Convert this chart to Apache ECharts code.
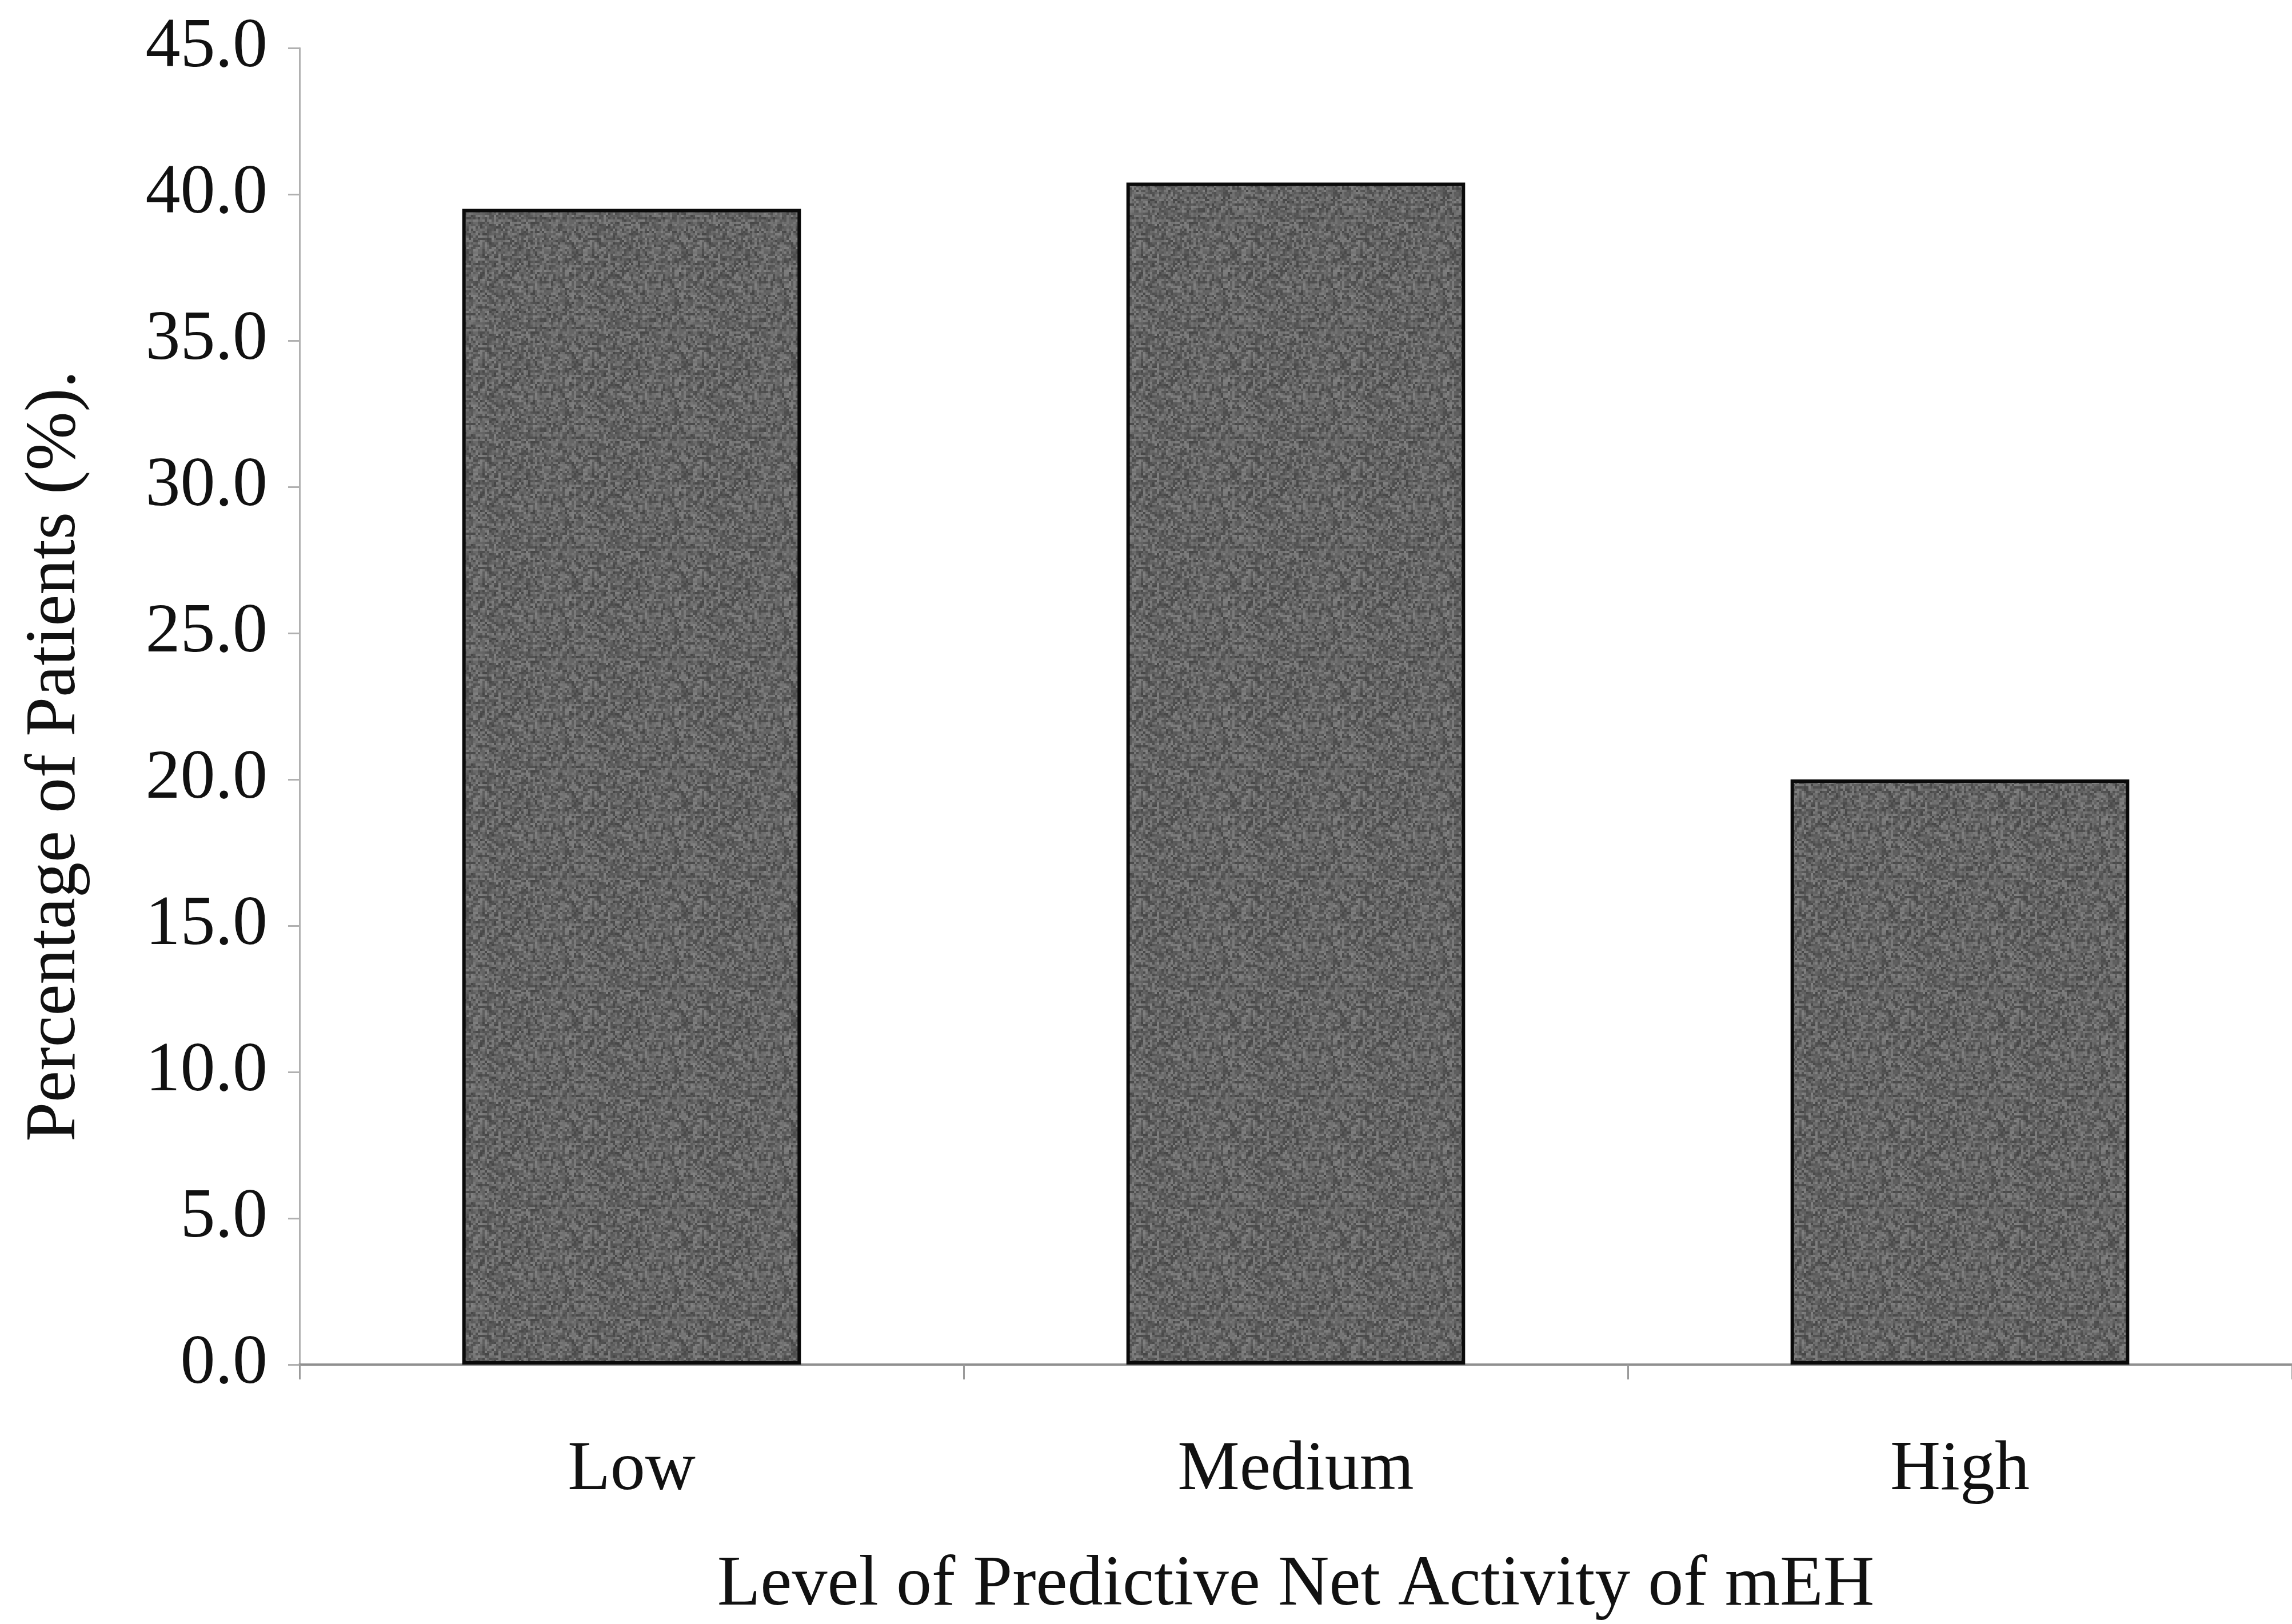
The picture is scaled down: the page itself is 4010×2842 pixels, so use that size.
<!DOCTYPE html>
<html>
<head>
<meta charset="utf-8">
<script src="https://cdn.jsdelivr.net/npm/echarts@6/dist/echarts.min.js"></script>
<style>
html,body{margin:0;padding:0;background:#fff;}
#chart{width:4010px;height:2842px;}
</style>
</head>
<body>
<div id="chart"></div>
<script>
const categories = ['Low', 'Medium', 'High'];
const percentages = [39.5, 40.4, 20.0];
const yTicks = [0, 5, 10, 15, 20, 25, 30, 35, 40, 45];
const xAxisTitle = 'Level of Predictive Net Activity of mEH';
const yAxisTitle = 'Percentage of Patients (%).';

// decorative stipple texture for the bar fill (style only, deterministic hash)
function makeTexture() {
  const cell = 4, n = 48;
  const c = document.createElement('canvas');
  c.width = cell * n; c.height = cell * n;
  const ctx = c.getContext('2d');
  for (let i = 0; i < n; i++) {
    for (let j = 0; j < n; j++) {
      let h = (i * 374761393 + j * 668265263) >>> 0;
      h = ((h ^ (h >>> 13)) * 1274126177) >>> 0;
      h = (h ^ (h >>> 16)) >>> 0;
      const g = 70 + (h % 60);
      ctx.fillStyle = 'rgb(' + g + ',' + g + ',' + g + ')';
      ctx.fillRect(i * cell, j * cell, cell, cell);
    }
  }
  return c;
}

const FONT = '"Liberation Serif", "DejaVu Serif", serif';
const chart = echarts.init(document.getElementById('chart'), null, {renderer: 'canvas'});
chart.setOption({
  backgroundColor: '#ffffff',
  animation: false,
  grid: {left: 524, top: 84, width: 3498, height: 2312, containLabel: false},
  xAxis: {
    type: 'category',
    data: categories,
    boundaryGap: true,
    name: xAxisTitle,
    nameLocation: 'middle',
    nameGap: 325,
    nameTextStyle: {fontFamily: FONT, fontSize: 124, color: '#111'},
    axisLine: {show: true, lineStyle: {color: '#8f8f8f', width: 4}},
    axisTick: {show: true, alignWithLabel: false, length: 26, lineStyle: {color: '#9a9a9a', width: 3}},
    axisLabel: {fontFamily: FONT, fontSize: 122, color: '#111', margin: 125},
    splitLine: {show: false}
  },
  yAxis: {
    type: 'value',
    min: yTicks[0],
    max: yTicks[yTicks.length - 1],
    interval: 5,
    axisLine: {show: true, lineStyle: {color: '#b0b0b0', width: 3}},
    axisTick: {show: true, length: 20, lineStyle: {color: '#b0b0b0', width: 3}},
    axisLabel: {fontFamily: FONT, fontSize: 122, color: '#111', margin: 56,
      formatter: v => v.toFixed(1)},
    splitLine: {show: false}
  },
  graphic: [{
    type: 'text',
    x: 97, y: 1323,
    rotation: Math.PI / 2,
    style: {text: yAxisTitle, fontFamily: FONT, fontSize: 124, fill: '#111',
      align: 'center', verticalAlign: 'middle'}
  }],
  series: [{
    type: 'bar',
    data: percentages,
    barWidth: '51%',
    itemStyle: {color: {image: makeTexture(), repeat: 'repeat'}, borderColor: '#0a0a0a', borderWidth: 6}
  }]
});
</script>
</body>
</html>
